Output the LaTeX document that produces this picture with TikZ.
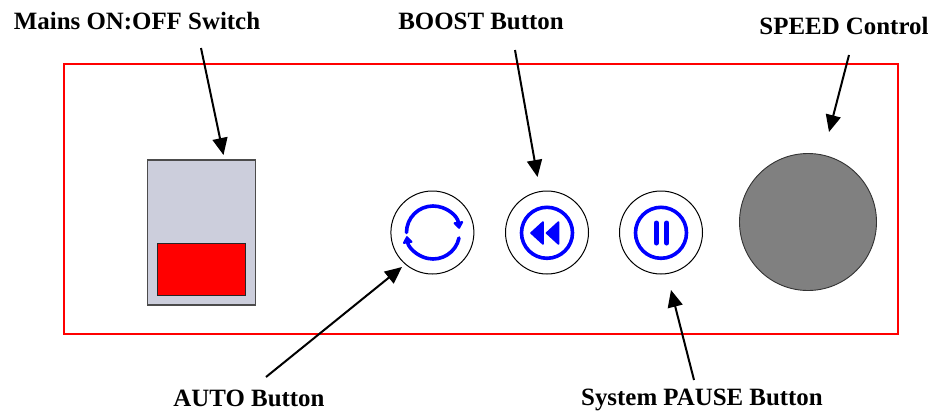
\documentclass[tikz,border=0pt]{standalone}
\usepackage{fontspec}
\setmainfont{Liberation Serif}
\usetikzlibrary{arrows.meta}
\definecolor{panelgrey}{HTML}{CCCEDC}
\definecolor{iconblue}{HTML}{0000FF}
\tikzset{
  lbl/.style={font=\bfseries\fontsize{24.9}{28}\selectfont,inner sep=0pt,anchor=center},
  pointer/.style={draw=black,line width=2pt,-{Triangle[length=17pt,width=15pt]},shorten >=0pt},
  btn/.style={circle,draw=black,line width=1pt,fill=white,minimum size=83pt,inner sep=0pt},
  ring/.style={draw=iconblue,line width=3.6pt},
  glyph/.style={fill=iconblue,draw=iconblue,line width=1.6pt,line join=round},
  bar/.style={draw=iconblue,line width=5pt,line cap=round},
  tipped/.style={draw=iconblue,line width=3.6pt,line cap=round,-{Triangle[length=8pt,width=11pt,round]}},
}
\begin{document}
\begin{tikzpicture}[x=1pt,y=-1pt]
\useasboundingbox (0,0) rectangle (934,410);
\fill[white] (0,0) rectangle (934,410);
\node[draw=red,line width=1.3pt,minimum width=834pt,minimum height=270pt,inner sep=0pt] (frame) at (481,199) {};
\node[draw=black!70,line width=1.2pt,fill=panelgrey,minimum width=108pt,minimum height=145pt,inner sep=0pt] (switch) at (201.5,232.5) {};
\node[draw=black!85,line width=0.9pt,fill=red,minimum width=88pt,minimum height=52pt,inner sep=0pt] (rocker) at (201,269.5) {};
\node[btn] (auto) at (432.4,232.5) {};
\node[btn] (boost) at (547,232.5) {};
\node[btn] (pause) at (661,232.5) {};
\node[circle,draw=black!80,line width=0.9pt,fill=black!50,minimum size=137pt,inner sep=0pt] (knob) at (808,222) {};
% auto icon
\draw[tipped] (406.5,232.5) arc[start angle=180,end angle=8,radius=26.5pt];
\draw[tipped] (459,238) arc[start angle=-12,end angle=-172,radius=26.5pt];
% boost icon
\node[circle,ring,minimum size=51pt,inner sep=0pt] (boostring) at (547,232.8) {};
\path[glyph] (531,233) -- (543,222) -- (543,244) -- cycle;
\path[glyph] (546.5,233) -- (558.5,222) -- (558.5,244) -- cycle;
% pause icon
\node[circle,ring,minimum size=51pt,inner sep=0pt] (pausering) at (661,232.8) {};
\draw[bar] (656.3,223) -- (656.3,243);
\draw[bar] (666.8,223) -- (666.8,243);
% labels
\node[lbl] (lmains) at (137,21) {Mains ON:OFF Switch};
\node[lbl] (lboost) at (481,21) {BOOST Button};
\node[lbl] (lspeed) at (844,26) {SPEED Control};
\node[lbl] (lauto) at (249,398) {AUTO Button};
\node[lbl] (lpause) at (702,400) {System PAUSE Button};
% connectors
\coordinate (a1) at (201,48); \coordinate (a2) at (223.5,155);
\coordinate (b1) at (515,50); \coordinate (b2) at (537.5,177);
\coordinate (c1) at (849,55); \coordinate (c2) at (829,132);
\coordinate (d1) at (266,377); \coordinate (d2) at (402,267);
\coordinate (e1) at (694,380); \coordinate (e2) at (671,290);
\draw[pointer] (a1) -- (a2);
\draw[pointer] (b1) -- (b2);
\draw[pointer] (c1) -- (c2);
\draw[pointer] (d1) -- (d2);
\draw[pointer] (e1) -- (e2);
\end{tikzpicture}
\end{document}
